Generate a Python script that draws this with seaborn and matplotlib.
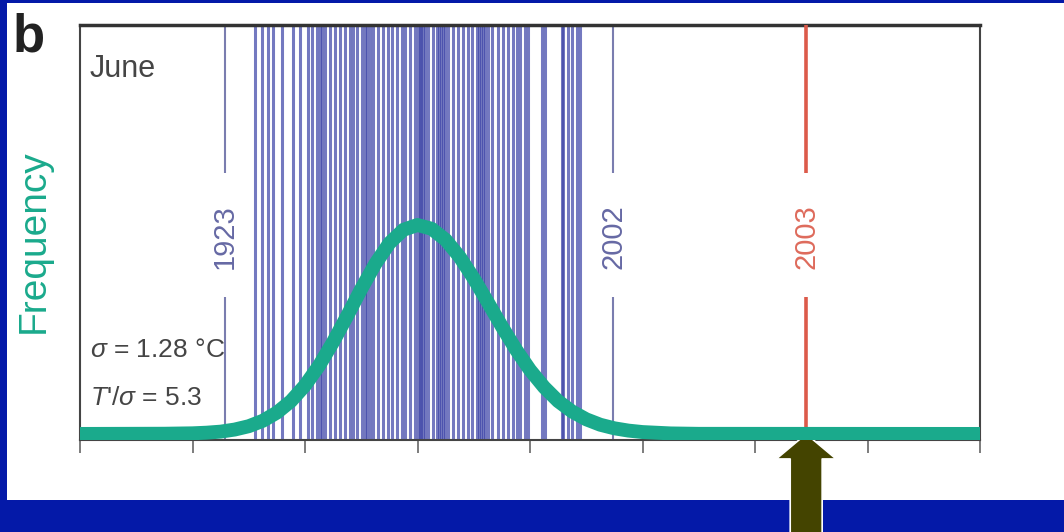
import matplotlib
matplotlib.use('Agg')
import matplotlib.pyplot as plt
import matplotlib.patches as mpatches
import seaborn as sns

# June temperature anomalies (degC) of the single years
june_temps = [-2.89, -2.76, -2.66, -2.57, -2.41, -2.21, -2.09, -1.95, -1.88,
              -1.79, -1.73, -1.70, -1.64, -1.56, -1.47, -1.38, -1.29, -1.20, -1.15,
              -1.08, -0.99, -0.93, -0.90, -0.84, -0.79, -0.70, -0.61, -0.52, -0.45,
              -0.36, -0.28, -0.22, -0.13, -0.04, 0.01, 0.04, 0.06, 0.10, 0.13,
              0.19, 0.28, 0.35, 0.38, 0.42, 0.45, 0.49, 0.54, 0.63, 0.72,
              0.81, 0.90, 0.97, 1.06, 1.09, 1.13, 1.16, 1.20, 1.25, 1.32,
              1.43, 1.52, 1.61, 1.70, 1.77, 1.82, 1.91, 1.96, 2.21, 2.27,
              2.57, 2.59, 2.68, 2.74, 2.83, 2.89]
label_years = ['1923', '2002']
label_temps = [-3.42, 3.48]
hot_year = '2003'
hot_temp = 6.91

# fitted frequency curve (relative, peak = 1)
curve_x = [-6.0, -4.5, -4.0, -3.75, -3.5, -3.25, -3.0, -2.75, -2.5, -2.25, -2.0,
           -1.75, -1.5, -1.25, -1.0, -0.75, -0.5, -0.25, 0.0, 0.25, 0.5, 0.75,
           1.0, 1.25, 1.5, 1.75, 2.0, 2.25, 2.5, 2.75, 3.0, 3.25, 3.5, 3.75,
           4.0, 4.5, 5.0, 10.0]
curve_y = [0.0, 0.001, 0.003, 0.006, 0.011, 0.021, 0.037, 0.063, 0.102, 0.157, 0.232,
           0.327, 0.44, 0.565, 0.694, 0.814, 0.913, 0.977, 1.0, 0.982, 0.929, 0.847,
           0.744, 0.63, 0.514, 0.404, 0.306, 0.224, 0.157, 0.107, 0.07, 0.044, 0.027, 0.016,
           0.009, 0.0025, 0.0005, 0.0]
x_ticks = [-6, -4, -2, 0, 2, 4, 6, 8, 10]

sns.set_theme(style='white')
plt.rcParams['font.family'] = ['Liberation Sans', 'DejaVu Sans']
plt.rcParams['mathtext.fontset'] = 'custom'
plt.rcParams['mathtext.rm'] = 'Liberation Sans'
plt.rcParams['mathtext.it'] = 'Liberation Sans:italic'

blue_bg = '#0419a8'
teal = '#1aaa8c'
txt_gray = '#454545'

fig = plt.figure(figsize=(10.64, 5.32), dpi=100, facecolor=blue_bg)
# white panel behind the axes
fig.patches.append(mpatches.Rectangle((7 / 1064, 32 / 532), 1057 / 1064, 497 / 532,
                                      transform=fig.transFigure, facecolor='white',
                                      edgecolor='none', zorder=-1))
ax = fig.add_axes([80 / 1064, 92 / 532, 900 / 1064, 415 / 532])
ax.set_facecolor('white')
xt = ax.get_xaxis_transform()

# one line per year
sns.rugplot(x=june_temps, height=1.0, color='#3f45a8', linewidth=2.2, alpha=0.72, ax=ax)

# labelled years: line broken where the year is written
gap_lo, gap_hi = 0.345, 0.643
ax.vlines(label_temps, 0, gap_lo, transform=xt, color='#7a7daf', lw=1.5)
ax.vlines(label_temps, gap_hi, 1, transform=xt, color='#7a7daf', lw=1.5)
for yr, t in zip(label_years, label_temps):
    ax.text(t, 0.49, yr, transform=xt, rotation=90, ha='center', va='center',
            fontsize=21, color='#6669a4')

ax.vlines([hot_temp], 0.02, gap_lo, transform=xt, color='#dc5a4a', lw=2.6, zorder=3)
ax.vlines([hot_temp], gap_hi, 1, transform=xt, color='#dc5a4a', lw=2.6, zorder=3)
ax.text(hot_temp, 0.49, hot_year, transform=xt, rotation=90, ha='center',
        va='center', fontsize=21, color='#de6b5c', zorder=4)

sns.lineplot(x=curve_x, y=curve_y, color=teal, lw=10, sort=False, ax=ax,
             solid_capstyle='butt', solid_joinstyle='round', zorder=5)

ax.set_xlim(-6, 10)
ax.set_ylim(-0.029, 1.957)
ax.set_xticks(x_ticks)
ax.set_xticklabels([])
ax.set_yticks([])
ax.tick_params(axis='x', bottom=True, direction='out', length=9, width=1.2,
               color='#666666')
for side in ['left', 'right', 'bottom']:
    ax.spines[side].set_color('#444444')
    ax.spines[side].set_linewidth(1.5)
ax.spines['top'].set_color('#333333')
ax.spines['top'].set_linewidth(2.5)

ax.set_xlabel('')
ax.set_ylabel('Frequency', color=teal, fontsize=28)
ax.yaxis.set_label_coords(-0.031, 0.48)

ax.text(0.011, 0.93, 'June', transform=ax.transAxes, ha='left', va='top',
        fontsize=22, color=txt_gray)
ax.text(0.011, 0.2, r'$\sigma$ = 1.28 °C', transform=ax.transAxes, ha='left',
        va='baseline', fontsize=19, color=txt_gray)
ax.text(0.011, 0.084, r"$T$'/$\sigma$ = 5.3", transform=ax.transAxes, ha='left',
        va='baseline', fontsize=19, color=txt_gray)

fig.text(13 / 1064, 1 - 13 / 532, 'b', ha='left', va='top', fontsize=38,
         fontweight='bold', color='#222222')

# arrow pointing at the 2003 value
ax.annotate('', xy=(hot_temp, 0.0), xytext=(0, -80), textcoords='offset points',
            annotation_clip=False,
            arrowprops=dict(arrowstyle='simple,head_length=1.8,head_width=4.3,tail_width=2.3',
                            mutation_scale=10, facecolor='#444400', edgecolor='white',
                            lw=1.2, shrinkA=0, shrinkB=0))

fig.savefig('out.png', dpi=100, facecolor=blue_bg)
